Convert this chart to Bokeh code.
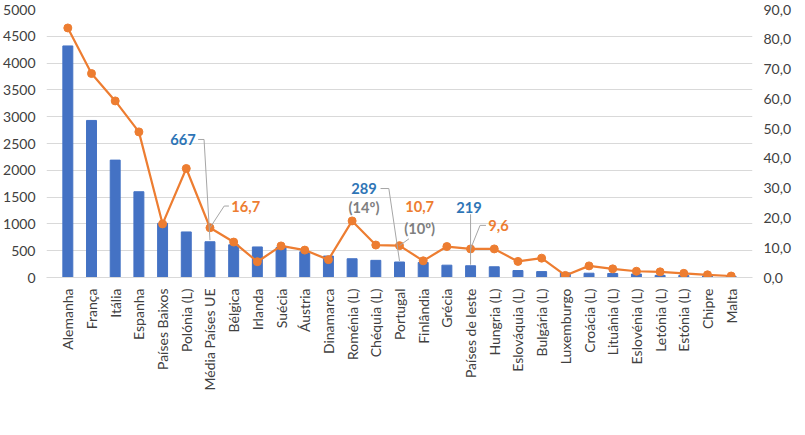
from bokeh.plotting import figure
from bokeh.models import Range1d, LinearAxis, FixedTicker, CustomJSTickFormatter, Legend, LegendItem
from bokeh.core.properties import value
from bokeh.embed import file_html
from bokeh.resources import INLINE
import math

countries = ["Alemanha","França","Itália","Espanha","Países Baixos","Polónia (L)","Média Países UE","Bélgica","Irlanda","Suécia","Áustria","Dinamarca","Roménia (L)","Chéquia (L)","Portugal","Finlândia","Grécia","Países de leste","Hungria (L)","Eslováquia (L)","Bulgária (L)","Luxemburgo","Croácia (L)","Lituânia (L)","Eslovénia (L)","Letónia (L)","Estónia (L)","Chipre","Malta"]
pib = [4320,2930,2190,1600,1010,850,667,610,570,560,480,400,350,320,289,280,230,219,200,130,110,85,80,75,65,40,38,30,20]
pop = [83.8,68.5,59.3,48.9,18.0,36.6,16.7,11.9,5.3,10.6,9.2,6.0,19.0,10.9,10.7,5.6,10.4,9.6,9.6,5.4,6.5,0.7,3.9,2.9,2.1,1.9,1.4,0.9,0.5]

BLUE = "#4472C4"; ORANGE = "#ED7D31"; GRAY = "#7F7F7F"; LBLUE = "#2E75B6"
FONT = "Lato"
FONT_V = value(FONT)
xs = list(range(len(countries)))

p = figure(frame_width=706, frame_height=268, output_backend="svg", toolbar_location=None,
           x_range=Range1d(-0.9, len(countries) - 0.1), y_range=Range1d(0, 5000),
           min_border_left=5, min_border_right=5, min_border_top=9, min_border_bottom=5)
p.outline_line_color = None
p.extra_y_ranges = {"pop": Range1d(0, 90)}

p.xaxis.ticker = FixedTicker(ticks=xs)
p.xaxis.major_label_overrides = {i: c for i, c in enumerate(countries)}
p.xaxis.major_label_orientation = math.pi / 2
p.xaxis.major_tick_line_color = None
p.xaxis.axis_line_color = "#D9D9D9"
p.xgrid.grid_line_color = None
p.yaxis.ticker = FixedTicker(ticks=list(range(0, 5001, 500)))
p.ygrid.ticker = FixedTicker(ticks=list(range(0, 5001, 500)))
p.ygrid.grid_line_color = "#D9D9D9"
p.yaxis.axis_line_color = None
p.yaxis.major_tick_line_color = None
p.yaxis.minor_tick_line_color = None

ax2 = LinearAxis(y_range_name="pop", ticker=FixedTicker(ticks=list(range(0, 91, 10))),
                 formatter=CustomJSTickFormatter(code="return tick.toFixed(1).replace('.', ',');"))
ax2.axis_line_color = None; ax2.major_tick_line_color = None; ax2.minor_tick_line_color = None
p.add_layout(ax2, "right")
for ax in [p.xaxis[0], p.yaxis[0], ax2]:
    ax.major_label_text_font = FONT
    ax.major_label_text_font_size = "10.5pt"
    ax.major_label_text_color = "#404040"

bars = p.vbar(x=xs, top=pib, width=0.42, color=BLUE)
ln = p.line(xs, pop, y_range_name="pop", color=ORANGE, line_width=2.2)
pts = p.scatter(xs, pop, y_range_name="pop", color=ORANGE, size=8)

lc = "#A6A6A6"
p.line([5.5, 5.75, 6], [2575, 2575, pib[6] + 30], color=lc)
p.line([6, 6.6, 6.8], [pop[6], 24, 24], y_range_name="pop", color=lc)
p.line([13.2, 13.55, 14], [1660, 1660, pib[14] + 20], color=lc)
p.line([14, 14.4], [pop[14], 13], y_range_name="pop", color=lc)
p.line([17, 17], [1180, pib[17] + 20], color=lc)
p.line([17, 17.4, 17.65], [pop[17], 17.5, 17.5], y_range_name="pop", color=lc)

def txt(x, y, s, color, align="center", yr="default"):
    p.text([x], [y], text=[s], text_color=color, text_font=FONT_V, text_font_size="11pt",
           text_font_style="bold", text_align=align, text_baseline="middle", y_range_name=yr)

fmt = lambda v: f"{v:.1f}".replace(".", ",")
txt(5.4, 2575, str(pib[6]), LBLUE, "right")
txt(6.9, 24, fmt(pop[6]), ORANGE, "left", "pop")
txt(12.5, 1660, str(pib[14]), LBLUE)
txt(12.5, 1306, "(14º)", GRAY)
txt(14.85, 23.8, fmt(pop[14]), ORANGE, "center", "pop")
txt(14.85, 16.5, "(10º)", GRAY, "center", "pop")
txt(16.93, 1306, str(pib[17]), LBLUE)
txt(17.75, 17.5, fmt(pop[17]), ORANGE, "left", "pop")

legend = Legend(items=[LegendItem(label="PIB (mil milhões)", renderers=[bars]),
                       LegendItem(label="População (milhões), escala dta.", renderers=[ln, pts])],
                orientation="horizontal", border_line_color=None,
                label_text_font=FONT, label_text_font_size="10.5pt", label_text_color="#404040",
                spacing=40, glyph_width=30, glyph_height=8, margin=4)
p.add_layout(legend, "below")
legend.location = (170, 0)

open("out.html", "w").write(file_html(p, INLINE))
